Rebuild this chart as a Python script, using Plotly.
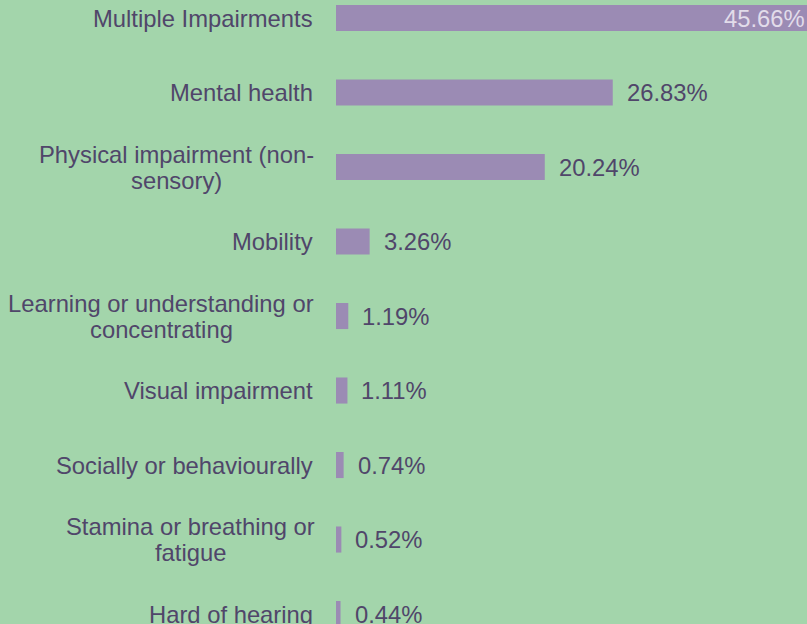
import plotly.graph_objects as go

categories = [
    "Multiple Impairments",
    "Mental health",
    "Physical impairment (non-<br>sensory)",
    "Mobility",
    "Learning or understanding or<br>concentrating",
    "Visual impairment",
    "Socially or behaviourally",
    "Stamina or breathing or<br>fatigue",
    "Hard of hearing",
]
values = [45.66, 26.83, 20.24, 3.26, 1.19, 1.11, 0.74, 0.52, 0.44]
labels = [f"{v:.2f}%" for v in values]

BG = "#a3d5ab"
BAR = "#9b8bb4"
TXT = "#50466a"
FS = 23.8
GAP = 21
# approximate rendered pixel width of the first line of wrapped labels (for centering)
FIRST_LINE_W = {2: 278, 4: 308, 7: 250}

fig = go.Figure(go.Bar(
    x=values, y=list(range(len(values))), orientation="h",
    marker=dict(color=BAR, line=dict(width=0)), width=0.35,
    hoverinfo="skip",
))

anns = []
for i, (c, v, t) in enumerate(zip(categories, values, labels)):
    lines = c.split("<br>")
    if len(lines) == 1:
        anns.append(dict(x=0, xref="paper", y=i, yref="y", text=c, showarrow=False,
                         xanchor="right", yanchor="middle", xshift=-GAP,
                         font=dict(size=FS, color=TXT)))
    else:
        center = -(GAP + FIRST_LINE_W[i] / 2)
        for k, ln in enumerate(lines):
            shift = (-(k - (len(lines) - 1) / 2)) * 26
            anns.append(dict(x=0, xref="paper", y=i, yref="y", text=ln, showarrow=False,
                             xanchor="center", yanchor="middle", xshift=center, yshift=shift,
                             font=dict(size=FS, color=TXT)))
    if i == 0:
        anns.append(dict(x=v, xref="x", y=i, yref="y", text=t, showarrow=False,
                         xanchor="right", yanchor="middle", xshift=0,
                         font=dict(size=FS, color="#e2dcea")))
    else:
        anns.append(dict(x=v, xref="x", y=i, yref="y", text=t, showarrow=False,
                         xanchor="left", yanchor="middle", xshift=12,
                         font=dict(size=FS, color=TXT)))

fig.update_layout(
    width=807, height=624,
    margin=dict(l=336, r=0, t=0, b=0),
    paper_bgcolor=BG, plot_bgcolor=BG,
    font=dict(family="Liberation Sans, Arial, sans-serif", size=FS, color=TXT),
    xaxis=dict(range=[0, 45.66], visible=False, fixedrange=True),
    yaxis=dict(range=[8.134, -0.242], visible=False, fixedrange=True),
    annotations=anns,
    showlegend=False,
)
fig.write_html("out.html", config={"displayModeBar": False},
               post_script="document.body.style.margin='0';")
